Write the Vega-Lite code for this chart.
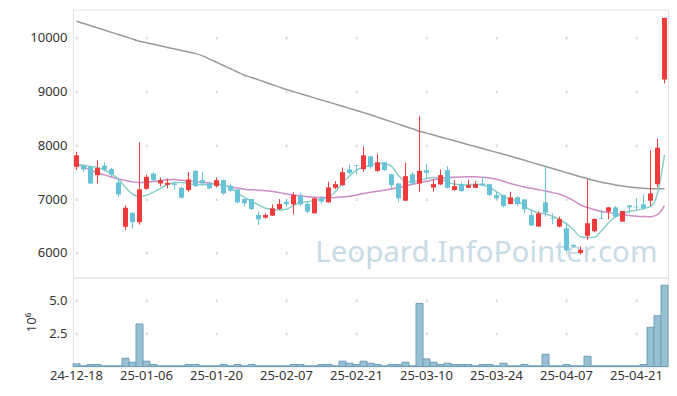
{
 "$schema": "https://vega.github.io/schema/vega-lite/v6.json",
 "background": "white",
 "padding": {"left": 25, "top": 8.5, "right": 9, "bottom": 0},
 "config": {
  "font": "Noto Sans",
  "view": {"stroke": "#e3e3e3", "strokeWidth": 1},
  "axis": {"labelFont": "Noto Sans", "labelFontSize": 13, "labelColor": "#333333", "titleFont": "Noto Sans", "titleFontSize": 13, "titleFontWeight": "normal", "titleColor": "#333333", "ticks": false, "tickSize": 0, "domain": false, "gridColor": "#d6d6d6", "gridWidth": 1}
 },
 "spacing": 0,
 "bounds": "flush",
 "data": {"values": [
  {"d":"24-12-18","o":7600,"h":7880,"l":7540,"c":7815,"v":0.20,"m5":7650,"m20":7650,"m60":10309},
  {"d":"24-12-19","o":7620,"h":7640,"l":7510,"c":7550,"v":0.05,"m5":7630,"m20":7600,"m60":10268},
  {"d":"24-12-20","o":7600,"h":7620,"l":7280,"c":7290,"v":0.15,"m5":7605,"m20":7540,"m60":10226},
  {"d":"24-12-23","o":7445,"h":7720,"l":7290,"c":7580,"v":0.15,"m5":7590,"m20":7490,"m60":10185},
  {"d":"24-12-24","o":7620,"h":7685,"l":7520,"c":7550,"v":0.05,"m5":7540,"m20":7450,"m60":10144},
  {"d":"24-12-26","o":7560,"h":7580,"l":7420,"c":7455,"v":0.05,"m5":7470,"m20":7410,"m60":10102},
  {"d":"24-12-27","o":7310,"h":7395,"l":7040,"c":7085,"v":0.05,"m5":7370,"m20":7375,"m60":10061},
  {"d":"24-12-30","o":6485,"h":6880,"l":6420,"c":6838,"v":0.62,"m5":7220,"m20":7345,"m60":10020},
  {"d":"25-01-02","o":6745,"h":6755,"l":6450,"c":6570,"v":0.32,"m5":7090,"m20":7320,"m60":9978},
  {"d":"25-01-03","o":6570,"h":8055,"l":6525,"c":7180,"v":3.20,"m5":7050,"m20":7310,"m60":9937},
  {"d":"25-01-06","o":7190,"h":7455,"l":7175,"c":7414,"v":0.40,"m5":7070,"m20":7315,"m60":9908},
  {"d":"25-01-07","o":7475,"h":7500,"l":7335,"c":7352,"v":0.15,"m5":7130,"m20":7325,"m60":9880},
  {"d":"25-01-08","o":7290,"h":7400,"l":7240,"c":7352,"v":0.05,"m5":7200,"m20":7340,"m60":9851},
  {"d":"25-01-09","o":7265,"h":7383,"l":7198,"c":7303,"v":0.05,"m5":7270,"m20":7360,"m60":9822},
  {"d":"25-01-10","o":7290,"h":7309,"l":7180,"c":7265,"v":0.05,"m5":7310,"m20":7362,"m60":9793},
  {"d":"25-01-13","o":7210,"h":7229,"l":7013,"c":7025,"v":0.05,"m5":7310,"m20":7350,"m60":9764},
  {"d":"25-01-14","o":7167,"h":7506,"l":7136,"c":7364,"v":0.15,"m5":7290,"m20":7338,"m60":9735},
  {"d":"25-01-15","o":7525,"h":7537,"l":7229,"c":7241,"v":0.15,"m5":7272,"m20":7325,"m60":9706},
  {"d":"25-01-16","o":7352,"h":7506,"l":7260,"c":7290,"v":0.05,"m5":7262,"m20":7312,"m60":9665},
  {"d":"25-01-17","o":7290,"h":7309,"l":7179,"c":7198,"v":0.05,"m5":7275,"m20":7300,"m60":9605},
  {"d":"25-01-20","o":7241,"h":7401,"l":7216,"c":7352,"v":0.05,"m5":7290,"m20":7280,"m60":9545},
  {"d":"25-01-21","o":7352,"h":7360,"l":7075,"c":7105,"v":0.15,"m5":7255,"m20":7255,"m60":9485},
  {"d":"25-01-22","o":7247,"h":7278,"l":7136,"c":7155,"v":0.05,"m5":7210,"m20":7230,"m60":9425},
  {"d":"25-01-23","o":7179,"h":7185,"l":6920,"c":6939,"v":0.15,"m5":7120,"m20":7205,"m60":9365},
  {"d":"25-01-24","o":7000,"h":7005,"l":6858,"c":6920,"v":0.05,"m5":7030,"m20":7185,"m60":9305},
  {"d":"25-01-31","o":7000,"h":7005,"l":6800,"c":6815,"v":0.15,"m5":6960,"m20":7172,"m60":9263},
  {"d":"25-02-03","o":6704,"h":6766,"l":6519,"c":6624,"v":0.05,"m5":6890,"m20":7165,"m60":9218},
  {"d":"25-02-04","o":6655,"h":6735,"l":6636,"c":6704,"v":0.05,"m5":6830,"m20":7155,"m60":9173},
  {"d":"25-02-05","o":6692,"h":6902,"l":6686,"c":6828,"v":0.05,"m5":6810,"m20":7140,"m60":9128},
  {"d":"25-02-06","o":6815,"h":7000,"l":6797,"c":6908,"v":0.05,"m5":6798,"m20":7120,"m60":9083},
  {"d":"25-02-07","o":6951,"h":7000,"l":6858,"c":6902,"v":0.05,"m5":6810,"m20":7095,"m60":9038},
  {"d":"25-02-10","o":6902,"h":7124,"l":6717,"c":7075,"v":0.15,"m5":6880,"m20":7075,"m60":8999},
  {"d":"25-02-11","o":7062,"h":7118,"l":6871,"c":6902,"v":0.15,"m5":6935,"m20":7060,"m60":8960},
  {"d":"25-02-12","o":6908,"h":6951,"l":6735,"c":6766,"v":0.05,"m5":6950,"m20":7045,"m60":8922},
  {"d":"25-02-13","o":6735,"h":7025,"l":6730,"c":7013,"v":0.05,"m5":6975,"m20":7035,"m60":8883},
  {"d":"25-02-14","o":7013,"h":7056,"l":6920,"c":6951,"v":0.15,"m5":7000,"m20":7028,"m60":8844},
  {"d":"25-02-17","o":6939,"h":7321,"l":6935,"c":7216,"v":0.15,"m5":7030,"m20":7025,"m60":8805},
  {"d":"25-02-18","o":7210,"h":7334,"l":7186,"c":7278,"v":0.05,"m5":7140,"m20":7030,"m60":8766},
  {"d":"25-02-19","o":7260,"h":7587,"l":7241,"c":7500,"v":0.40,"m5":7300,"m20":7040,"m60":8726},
  {"d":"25-02-20","o":7550,"h":7642,"l":7463,"c":7488,"v":0.25,"m5":7430,"m20":7052,"m60":8687},
  {"d":"25-02-21","o":7632,"h":7636,"l":7463,"c":7620,"v":0.15,"m5":7540,"m20":7075,"m60":8648},
  {"d":"25-02-24","o":7556,"h":7981,"l":7506,"c":7815,"v":0.40,"m5":7590,"m20":7105,"m60":8608},
  {"d":"25-02-25","o":7796,"h":7800,"l":7568,"c":7599,"v":0.25,"m5":7630,"m20":7125,"m60":8569},
  {"d":"25-02-26","o":7525,"h":7846,"l":7506,"c":7685,"v":0.15,"m5":7660,"m20":7145,"m60":8525},
  {"d":"25-02-27","o":7685,"h":7690,"l":7525,"c":7537,"v":0.05,"m5":7660,"m20":7165,"m60":8481},
  {"d":"25-02-28","o":7463,"h":7468,"l":7179,"c":7260,"v":0.15,"m5":7610,"m20":7188,"m60":8438},
  {"d":"25-03-04","o":7290,"h":7295,"l":6951,"c":7013,"v":0.15,"m5":7440,"m20":7215,"m60":8394},
  {"d":"25-03-05","o":6970,"h":7673,"l":6965,"c":7426,"v":0.32,"m5":7330,"m20":7245,"m60":8350},
  {"d":"25-03-06","o":7463,"h":7506,"l":7260,"c":7290,"v":0.05,"m5":7320,"m20":7275,"m60":8307},
  {"d":"25-03-07","o":7290,"h":8537,"l":7136,"c":7525,"v":4.75,"m5":7350,"m20":7305,"m60":8263},
  {"d":"25-03-10","o":7537,"h":7660,"l":7383,"c":7488,"v":0.57,"m5":7383,"m20":7330,"m60":8227},
  {"d":"25-03-11","o":7216,"h":7364,"l":7136,"c":7278,"v":0.32,"m5":7400,"m20":7360,"m60":8191},
  {"d":"25-03-12","o":7272,"h":7550,"l":7260,"c":7445,"v":0.15,"m5":7380,"m20":7385,"m60":8155},
  {"d":"25-03-13","o":7537,"h":7611,"l":7198,"c":7210,"v":0.25,"m5":7310,"m20":7400,"m60":8120},
  {"d":"25-03-14","o":7167,"h":7352,"l":7155,"c":7241,"v":0.15,"m5":7280,"m20":7408,"m60":8084},
  {"d":"25-03-17","o":7278,"h":7321,"l":7136,"c":7149,"v":0.15,"m5":7262,"m20":7412,"m60":8048},
  {"d":"25-03-18","o":7210,"h":7364,"l":7205,"c":7260,"v":0.15,"m5":7265,"m20":7414,"m60":8012},
  {"d":"25-03-19","o":7210,"h":7334,"l":7205,"c":7278,"v":0.05,"m5":7278,"m20":7414,"m60":7977},
  {"d":"25-03-20","o":7290,"h":7401,"l":7241,"c":7260,"v":0.15,"m5":7260,"m20":7405,"m60":7941},
  {"d":"25-03-21","o":7278,"h":7282,"l":7062,"c":7075,"v":0.15,"m5":7220,"m20":7390,"m60":7905},
  {"d":"25-03-24","o":7075,"h":7136,"l":6995,"c":7013,"v":0.05,"m5":7140,"m20":7370,"m60":7869},
  {"d":"25-03-25","o":7075,"h":7080,"l":6846,"c":6871,"v":0.25,"m5":7050,"m20":7330,"m60":7834},
  {"d":"25-03-26","o":6908,"h":7136,"l":6902,"c":7032,"v":0.05,"m5":6990,"m20":7290,"m60":7798},
  {"d":"25-03-27","o":7032,"h":7056,"l":6871,"c":6908,"v":0.05,"m5":6975,"m20":7255,"m60":7760},
  {"d":"25-03-28","o":6995,"h":7000,"l":6735,"c":6809,"v":0.15,"m5":6860,"m20":7225,"m60":7721},
  {"d":"25-03-31","o":6704,"h":6809,"l":6500,"c":6510,"v":0.05,"m5":6790,"m20":7200,"m60":7683},
  {"d":"25-04-01","o":6488,"h":6766,"l":6485,"c":6735,"v":0.05,"m5":6745,"m20":7175,"m60":7645},
  {"d":"25-04-02","o":6939,"h":7611,"l":6673,"c":6747,"v":0.92,"m5":6720,"m20":7150,"m60":7607},
  {"d":"25-04-03","o":6649,"h":6735,"l":6531,"c":6636,"v":0.05,"m5":6680,"m20":7120,"m60":7568},
  {"d":"25-04-04","o":6488,"h":6673,"l":6475,"c":6630,"v":0.05,"m5":6620,"m20":7090,"m60":7530},
  {"d":"25-04-07","o":6457,"h":6562,"l":6025,"c":6044,"v":0.15,"m5":6540,"m20":7040,"m60":7492},
  {"d":"25-04-08","o":6149,"h":6152,"l":6100,"c":6118,"v":0.05,"m5":6430,"m20":6970,"m60":7454},
  {"d":"25-04-09","o":5999,"h":6118,"l":5963,"c":6056,"v":0.05,"m5":6300,"m20":6890,"m60":7415},
  {"d":"25-04-10","o":6316,"h":7364,"l":6242,"c":6550,"v":0.77,"m5":6285,"m20":6845,"m60":7377},
  {"d":"25-04-11","o":6402,"h":6642,"l":6383,"c":6630,"v":0.05,"m5":6290,"m20":6800,"m60":7345},
  {"d":"25-04-14","o":6642,"h":6797,"l":6625,"c":6630,"v":0.05,"m5":6410,"m20":6770,"m60":7315},
  {"d":"25-04-15","o":6766,"h":6850,"l":6624,"c":6846,"v":0.05,"m5":6560,"m20":6748,"m60":7288},
  {"d":"25-04-16","o":6846,"h":6871,"l":6655,"c":6673,"v":0.05,"m5":6670,"m20":6730,"m60":7263},
  {"d":"25-04-17","o":6581,"h":6780,"l":6578,"c":6778,"v":0.05,"m5":6725,"m20":6712,"m60":7242},
  {"d":"25-04-18","o":6883,"h":6886,"l":6735,"c":6846,"v":0.05,"m5":6770,"m20":6695,"m60":7225},
  {"d":"25-04-21","o":6858,"h":7013,"l":6797,"c":6846,"v":0.05,"m5":6790,"m20":6682,"m60":7210},
  {"d":"25-04-22","o":6902,"h":7087,"l":6797,"c":6828,"v":0.15,"m5":6825,"m20":6675,"m60":7200},
  {"d":"25-04-23","o":6970,"h":7907,"l":6871,"c":7105,"v":2.95,"m5":6860,"m20":6672,"m60":7193},
  {"d":"25-04-24","o":7278,"h":8123,"l":7216,"c":7957,"v":3.82,"m5":7103,"m20":6710,"m60":7190},
  {"d":"25-04-25","o":9224,"h":10378,"l":9150,"c":10370,"v":6.12,"m5":7823,"m20":6880,"m60":7192}
 ]},
 "vconcat": [
  {
   "width": 595,
   "height": 268,
   "encoding": {
    "x": {"field": "d", "type": "ordinal", "scale": {"type": "band", "paddingInner": 0, "paddingOuter": 0},
     "axis": {"values": ["24-12-18","25-01-06","25-01-20","25-02-07","25-02-21","25-03-10","25-03-24","25-04-07","25-04-21"], "labels": false, "title": null, "minExtent": 0, "maxExtent": 0, "grid": true, "gridDash": [3, 50.75], "gridDashOffset": 26.92}}
   },
   "layer": [
    {
     "data": {"values": [{"t": "Leopard.InfoPointer.com"}]},
     "mark": {"type": "text", "align": "right", "baseline": "alphabetic", "fontSize": 29.5, "font": "Noto Sans", "color": "#c8dbe6"},
     "encoding": {
      "x": {"datum": "25-04-24", "type": "ordinal"},
      "y": {"datum": 5825, "type": "quantitative", "scale": {"domain": [5541, 10527], "nice": false, "zero": false},
       "axis": {"values": [6000, 7000, 8000, 9000, 10000], "format": "d", "title": null, "labelPadding": 6, "grid": true, "gridDash": [3, 67], "gridDashOffset": 68}},
      "text": {"field": "t"}
     }
    },
    {
     "mark": {"type": "line", "color": "#9a9a9a", "strokeWidth": 1.5, "interpolate": "monotone"},
     "encoding": {
      "y": {"field": "m60", "type": "quantitative", "scale": {"domain": [5541, 10527], "nice": false, "zero": false},
       "axis": {"values": [6000, 7000, 8000, 9000, 10000], "format": "d", "title": null, "labelPadding": 6, "grid": true, "gridDash": [3, 67], "gridDashOffset": 68}}
     }
    },
    {
     "mark": {"type": "line", "color": "#cc8cc6", "strokeWidth": 1.5, "interpolate": "monotone"},
     "encoding": {"y": {"field": "m20", "type": "quantitative", "scale": {"domain": [5541, 10527], "nice": false, "zero": false},
       "axis": {"values": [6000, 7000, 8000, 9000, 10000], "format": "d", "title": null, "labelPadding": 6, "grid": true, "gridDash": [3, 67], "gridDashOffset": 68}}}
    },
    {
     "mark": {"type": "line", "color": "#8ccfc8", "strokeWidth": 1.5, "interpolate": "monotone"},
     "encoding": {"y": {"field": "m5", "type": "quantitative", "scale": {"domain": [5541, 10527], "nice": false, "zero": false},
       "axis": {"values": [6000, 7000, 8000, 9000, 10000], "format": "d", "title": null, "labelPadding": 6, "grid": true, "gridDash": [3, 67], "gridDashOffset": 68}}}
    },
    {
     "mark": {"type": "rule", "strokeWidth": 1},
     "encoding": {
      "y": {"field": "l", "type": "quantitative", "scale": {"domain": [5541, 10527], "nice": false, "zero": false},
       "axis": {"values": [6000, 7000, 8000, 9000, 10000], "format": "d", "title": null, "labelPadding": 6, "grid": true, "gridDash": [3, 67], "gridDashOffset": 68}},
      "y2": {"field": "h"},
      "color": {"condition": {"test": "datum.c >= datum.o", "value": "#ef3b3b"}, "value": "#68c3d8"}
     }
    },
    {
     "mark": {"type": "bar", "width": {"band": 0.72}},
     "encoding": {
      "y": {"field": "o", "type": "quantitative", "scale": {"domain": [5541, 10527], "nice": false, "zero": false},
       "axis": {"values": [6000, 7000, 8000, 9000, 10000], "format": "d", "title": null, "labelPadding": 6, "grid": true, "gridDash": [3, 67], "gridDashOffset": 68}},
      "y2": {"field": "c"},
      "color": {"condition": {"test": "datum.c >= datum.o", "value": "#ef3b3b"}, "value": "#68c3d8"}
     }
    }
   ]
  },
  {
   "width": 595,
   "height": 89,
   "mark": {"type": "bar", "fill": "#97c0d3", "stroke": "#6f9fb8", "strokeWidth": 1},
   "encoding": {
    "x": {"field": "d", "type": "ordinal", "scale": {"type": "band", "paddingInner": 0, "paddingOuter": 0},
     "axis": {"values": ["24-12-18","25-01-06","25-01-20","25-02-07","25-02-21","25-03-10","25-03-24","25-04-07","25-04-21"], "title": null, "labelAngle": 0, "labelPadding": 3, "grid": true, "gridDash": [3, 30.21], "gridDashOffset": 12.13}},
    "y": {"field": "v", "type": "quantitative", "scale": {"domain": [0, 6.7], "nice": false, "zero": true},
     "axis": {"values": [2.5, 5], "format": ".1f", "title": "10⁶", "titlePadding": 10, "labelPadding": 6, "grid": true, "gridDash": [3, 67], "gridDashOffset": 68}}
   }
  }
 ]
}
